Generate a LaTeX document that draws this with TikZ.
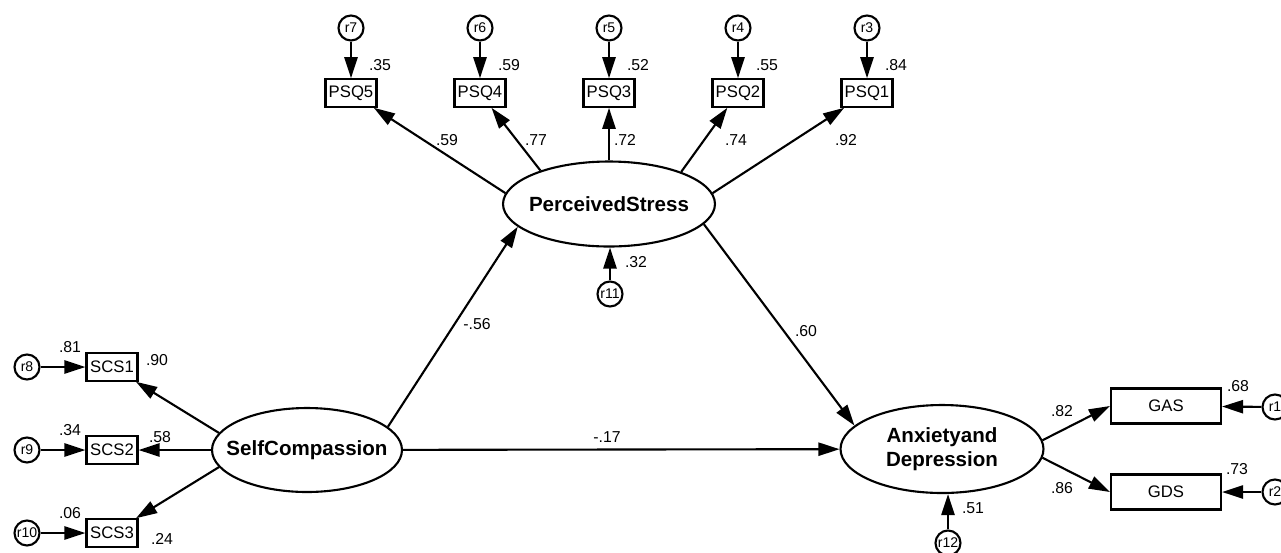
\documentclass[tikz,border=0pt]{standalone}
\usepackage{fontspec}
\setmainfont{Liberation Sans}
\usetikzlibrary{arrows.meta,shapes.geometric}
\tikzset{>={Triangle[length=12pt,width=7.5pt]}}

\begin{document}
\begin{tikzpicture}[x=0.02cm,y=-0.02cm,line width=1.2pt,
    obs/.style={draw,rectangle,minimum width=1.02cm,minimum height=0.55cm,inner sep=1pt,font=\fontsize{9.5}{11}\selectfont},
    lat/.style={draw,ellipse,inner xsep=-15pt,inner ysep=-6pt,align=center,font=\bfseries\fontsize{11.7}{13.5}\selectfont},
    err/.style={draw,circle,minimum size=0.5cm,inner sep=0pt,font=\fontsize{8}{9}\selectfont},
    coef/.style={inner sep=0pt,font=\fontsize{9}{10}\selectfont}]
    \useasboundingbox (0,0) rectangle (1281,552);
    \node[lat,minimum width=4.24cm,minimum height=1.7cm] (ps) at (609,204) {PerceivedStress};
    \node[lat,minimum width=3.8cm,minimum height=1.68cm] (sc) at (307,450) {SelfCompassion};
    \node[lat,minimum width=4.06cm,minimum height=1.76cm] (ad) at (942,449) {Anxietyand\\Depression};
    \foreach \n/\r/\x/\a/\v/\l/\lx in {5/7/351/174/.35/.59/447, 4/6/480/154/.59/.77/536, 3/5/609/90/.52/.72/625, 2/4/738/24/.55/.74/736, 1/3/867/6/.84/.92/846}{
        \node[obs] (psq\n) at (\x,93) {PSQ\n};
        \node[err] (r\r) at (\x,28) {r\r};
        \draw[->] (r\r) -- (psq\n);
        \draw[->] (ps.\a) -- (psq\n);
        \node[coef] (v\r) at (\x+29,65) {\v};
        \node[coef] (l\n) at (\lx,140) {\l};
    }
    \foreach \n/\r/\y/\a/\v/\l/\lx/\ly in {1/8/367/169/.81/.90/157/360, 2/9/450/180/.34/.58/160/437, 3/10/533/191/.06/.24/162/539}{
        \node[obs] (scs\n) at (112,\y) {SCS\n};
        \node[err] (r\r) at (27,\y) {r\r};
        \draw[->] (r\r) -- (scs\n);
        \draw[->] (sc.\a) -- (scs\n);
        \node[coef] (v\r) at (70,\y-20) {\v};
        \node[coef] (ls\n) at (\lx,\ly) {\l};
    }
    \node[obs,minimum width=2.2cm,minimum height=0.7cm] (gas) at (1166,406) {GAS};
    \node[obs,minimum width=2.2cm,minimum height=0.7cm] (gds) at (1166,492) {GDS};
    \node[err] (r1) at (1275,407) {r1};
    \node[err] (r2) at (1275,492) {r2};
    \node[err] (r11) at (610,294) {r11};
    \node[err] (r12) at (948,543) {r12};
    \draw[->] (r1) -- (gas);
    \draw[->] (r2) -- (gds);
    \draw[->] (ad.5) -- (gas.west);
    \draw[->] (ad.-5) -- (gds.west);
    \draw[->] (r11) -- (r11 |- ps.south);
    \draw[->] (r12) -- (r12 |- ad.south);
    \draw[->] (sc.16) -- (ps.194);
    \draw[->] (ps.-12) -- (ad.165);
    \draw[->] (sc) -- (ad);
    \node[coef] (b1) at (477,324) {-.56};
    \node[coef] (b2) at (806,331) {.60};
    \node[coef] (b3) at (607,437) {-.17};
    \node[coef] (v11) at (636,262) {.32};
    \node[coef] (v12) at (973,508) {.51};
    \node[coef] (v1) at (1238,386) {.68};
    \node[coef] (v2) at (1237,469) {.73};
    \node[coef] (lg1) at (1062,411) {.82};
    \node[coef] (lg2) at (1062,488) {.86};
\end{tikzpicture}
\end{document}
